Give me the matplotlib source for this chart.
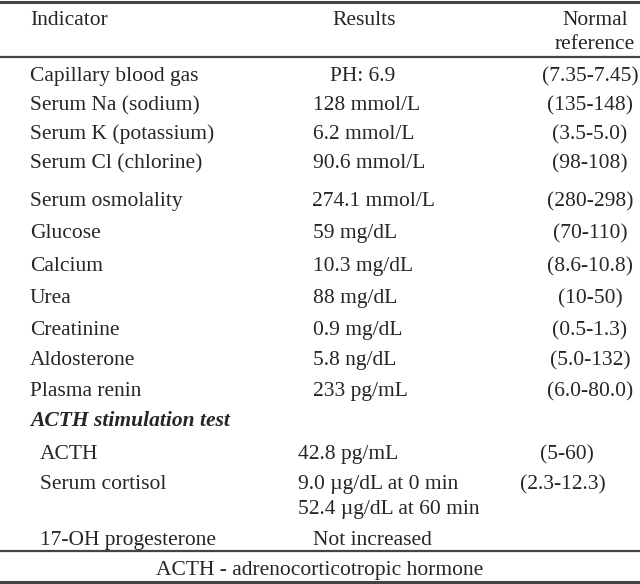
import matplotlib
matplotlib.use("Agg")
import matplotlib.pyplot as plt

# table content
header = ["Indicator", "Results", "Normal\nreference"]
indicators = ["Capillary blood gas", "Serum Na (sodium)", "Serum K (potassium)",
              "Serum Cl (chlorine)", "Serum osmolality", "Glucose", "Calcium",
              "Urea", "Creatinine", "Aldosterone", "Plasma renin"]
results = ["PH: 6.9", "128 mmol/L", "6.2 mmol/L", "90.6 mmol/L", "274.1 mmol/L",
           "59 mg/dL", "10.3 mg/dL", "88 mg/dL", "0.9 mg/dL", "5.8 ng/dL", "233 pg/mL"]
references = ["(7.35-7.45)", "(135-148)", "(3.5-5.0)", "(98-108)", "(280-298)",
              "(70-110)", "(8.6-10.8)", "(10-50)", "(0.5-1.3)", "(5.0-132)", "(6.0-80.0)"]
section = "ACTH stimulation test"
sub_indicators = ["ACTH", "Serum cortisol", "17-OH progesterone"]
sub_results = ["42.8 pg/mL", "9.0 \u00b5g/dL at 0 min\n52.4 \u00b5g/dL at 60 min", "Not increased"]
sub_references = ["(5-60)", "(2.3-12.3)", ""]
footnote = "ACTH - adrenocorticotropic hormone"

# layout (pixels, row centres -> baselines)
row_y = [74, 103, 132, 161, 199, 231, 264, 296, 328, 358, 389]
res_x = [330, 313, 313, 313, 312, 313, 313, 313, 313, 313, 313]
sub_y = [452, 482, 538]
sub_res_x = [298, 298, 313]
sub_ref_x = [567, 563, 563]
dy = 7

col = "#262626"
plt.rcParams["font.family"] = ["Liberation Serif", "DejaVu Serif"]
fs = 15.5

fig = plt.figure(figsize=(6.4, 5.84), dpi=100)
ax = fig.add_axes([0, 0, 1, 1])
ax.set_xlim(0, 640)
ax.set_ylim(584, 0)
ax.axis("off")

for y, lw in [(1.5, 2.2), (57, 1.6), (551, 1.6), (582, 2.2)]:
    ax.plot([0, 640], [y, y], color="#444444", lw=lw)

def put(x, y, s, ha="left", **kw):
    ax.text(x, y + dy, s, fontsize=fs, color=col, va="baseline", ha=ha, **kw)

put(30, 18, header[0])
put(364, 18, header[1], ha="center")
for k, line in enumerate(header[2].split("\n")):
    put(595, 18 + 24 * k, line, ha="center")

for i in range(len(indicators)):
    put(30, row_y[i], indicators[i])
    put(res_x[i], row_y[i], results[i])
    put(590, row_y[i], references[i], ha="center")

put(30, 419, section, style="italic", fontweight="bold")

for i in range(len(sub_indicators)):
    put(40, sub_y[i], sub_indicators[i])
    for k, line in enumerate(sub_results[i].split("\n")):
        put(sub_res_x[i], sub_y[i] + 25 * k, line)
    put(sub_ref_x[i], sub_y[i], sub_references[i], ha="center")

put(320, 568, footnote, ha="center")

fig.savefig("out.png", dpi=100, facecolor="white")
